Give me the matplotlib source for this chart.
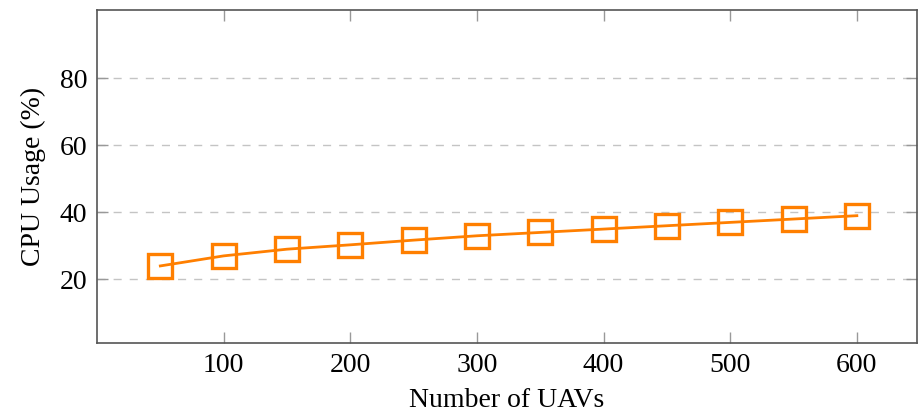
import matplotlib
matplotlib.use("Agg")
import matplotlib.pyplot as plt

num_uavs = [50, 100, 150, 200, 250, 300, 350, 400, 450, 500, 550, 600]
cpu_usage = [24.0, 27.0, 29.0, 30.3, 31.7, 33.0, 34.0, 35.0, 36.0, 37.0, 38.0, 39.0]
x_ticks = [100, 200, 300, 400, 500, 600]
y_ticks = [20, 40, 60, 80]

plt.rcParams['font.family'] = ['Liberation Serif', 'DejaVu Serif']

fig = plt.figure(figsize=(9.18, 4.17), dpi=100)
ax = fig.add_axes([97/918, 1-343.3/417, (917-97)/918, (343.3-9.7)/417])

orange = '#FF7F00'
ax.plot(num_uavs, cpu_usage, color=orange, lw=2.0, marker='s', markersize=17,
        markerfacecolor='none', markeredgecolor=orange, markeredgewidth=2.4, zorder=3)

ax.set_xlim(0, 647.5)
ax.set_ylim(0.9, 100.5)
ax.set_xticks(x_ticks)
ax.set_yticks(y_ticks)
ax.tick_params(direction='in', length=8, width=1, color='#999999', labelsize=20,
               top=True, right=True, pad=7)
for s in ax.spines.values():
    s.set_color('#555555')
    s.set_linewidth(1.2)
ax.yaxis.grid(True, color='#C4C4C4', linestyle=(0, (5.8, 5.8)), linewidth=1)
ax.set_axisbelow(True)

ax.set_xlabel('Number of UAVs', fontsize=20, labelpad=7)
ax.set_ylabel('CPU Usage (%)', fontsize=20, labelpad=10)

fig.savefig('out.png', dpi=100)
